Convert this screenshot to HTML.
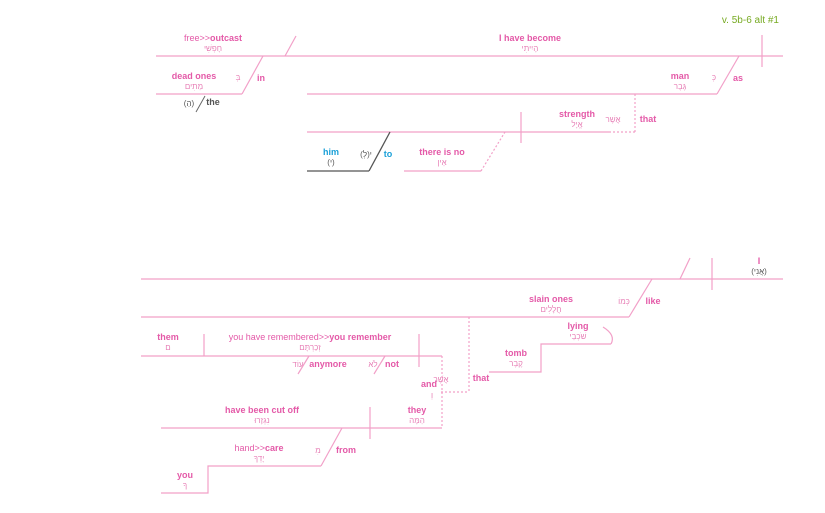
<!DOCTYPE html>
<html><head><meta charset="utf-8"><style>
html,body{margin:0;padding:0;background:#fff;}
svg{display:block;}
text{font-family:"Liberation Sans","Noto Sans CJK SC",sans-serif;font-size:9px;font-weight:bold;fill:#e45aa8;text-anchor:middle;}
.h{font-weight:normal;font-size:8px;fill:#e77fb6;}
.g{fill:#555;}
.b{fill:#1aa0d8;}
.l{font-weight:normal;}
</style></head><body>
<svg width="825" height="513" viewBox="0 0 825 513">
<g stroke="#f2a0c8" stroke-width="1.2" fill="none">
<line x1="156" y1="56" x2="783" y2="56"/>
<line x1="296" y1="36" x2="285" y2="56"/>
<line x1="762" y1="35" x2="762" y2="67"/>
<line x1="263" y1="56" x2="242" y2="94"/>
<line x1="156" y1="94" x2="242" y2="94"/>
<line x1="307" y1="94" x2="717" y2="94"/>
<line x1="739" y1="56" x2="717" y2="94"/>
<line x1="635" y1="94" x2="635" y2="132" stroke-dasharray="2,2"/>
<line x1="609" y1="132" x2="635" y2="132" stroke-dasharray="2,2"/>
<line x1="307" y1="132" x2="609" y2="132"/>
<line x1="521" y1="112" x2="521" y2="143"/>
<line x1="404" y1="171" x2="481" y2="171"/>
<line x1="481" y1="171" x2="505" y2="132" stroke-dasharray="2,2"/>
<line x1="141" y1="279" x2="783" y2="279"/>
<line x1="690" y1="258" x2="680" y2="279"/>
<line x1="712" y1="258" x2="712" y2="290"/>
<line x1="652" y1="279" x2="629" y2="317"/>
<line x1="141" y1="317" x2="629" y2="317"/>
<path d="M489 372 H541 V344 H611"/>
<path d="M603 327 Q616 335 611 344"/>
<line x1="469" y1="317" x2="469" y2="392" stroke-dasharray="2,2"/>
<line x1="441" y1="392" x2="469" y2="392" stroke-dasharray="2,2"/>
<line x1="141" y1="356" x2="442" y2="356"/>
<line x1="442" y1="356" x2="442" y2="428" stroke-dasharray="2,2"/>
<line x1="204" y1="334" x2="204" y2="356"/>
<line x1="419" y1="334" x2="419" y2="367"/>
<line x1="309" y1="356" x2="298" y2="374"/>
<line x1="385" y1="356" x2="374" y2="374"/>
<line x1="161" y1="428" x2="442" y2="428"/>
<line x1="370" y1="407" x2="370" y2="439"/>
<line x1="342" y1="428" x2="321" y2="466"/>
<path d="M321 466 H208 V493 H161"/>
</g>
<line x1="205" y1="96" x2="196" y2="112" stroke="#666" stroke-width="1"/>
<line x1="390" y1="132" x2="369" y2="171" stroke="#555" stroke-width="1.3"/>
<line x1="307" y1="171" x2="369" y2="171" stroke="#555" stroke-width="1.3"/>

<text x="779" y="23" style="fill:#77aa22;font-weight:normal;font-size:10px;text-anchor:end">v. 5b-6 alt #1</text>
<text x="213" y="41"><tspan class="l">free&gt;&gt;</tspan>outcast</text><text x="213" y="51" class="h">חָפְשִׁי</text>
<text x="530" y="41">I have become</text><text x="530" y="51" class="h">הָיִיתִי</text>
<text x="194" y="79">dead ones</text><text x="194" y="89" class="h">מֵתִים</text>
<text x="238" y="80" class="h">בְּ</text><text x="261" y="81">in</text>
<text x="189" y="106" class="h g">(הַ)</text><text x="213" y="105" class="g">the</text>
<text x="680" y="79">man</text><text x="680" y="89" class="h">גֶּבֶר</text>
<text x="714" y="80" class="h">כְּ</text><text x="738" y="81">as</text>
<text x="648" y="122">that</text>
<text x="577" y="117">strength</text><text x="577" y="127" class="h">אֱיָל</text>
<text x="613" y="122" class="h">אֲשֶׁר</text>
<text x="331" y="155" class="b">him</text><text x="331" y="165" class="h g">(י)</text>
<text x="366" y="157" class="h g">(לְ)י</text><text x="388" y="157" class="b">to</text>
<text x="442" y="155">there is no</text><text x="442" y="165" class="h">אֵין</text>

<text x="759" y="264">I</text><text x="759" y="274" class="h g">(אֲנִי)</text>
<text x="551" y="302">slain ones</text><text x="551" y="312" class="h">חֲלָלִים</text>
<text x="624" y="304" class="h">כְּמוֹ</text><text x="653" y="304">like</text>
<text x="578" y="329">lying</text><text x="578" y="339" class="h">שֹׁכְבֵי</text>
<text x="516" y="356">tomb</text><text x="516" y="366" class="h">קֶבֶר</text>
<text x="481" y="381">that</text>
<text x="168" y="340">them</text><text x="168" y="350" class="h">ם</text>
<text x="310" y="340"><tspan class="l">you have remembered&gt;&gt;</tspan>you remember</text><text x="310" y="350" class="h">זְכַרְתָּם</text>
<text x="298" y="367" class="h">עוֹד</text><text x="328" y="367">anymore</text>
<text x="373" y="367" class="h">לֹא</text><text x="392" y="367">not</text>
<text x="429" y="387">and</text><text x="441" y="382" class="h">אֲשֶׁר</text><text x="432" y="398" class="h">וְ</text>
<text x="417" y="413">they</text><text x="417" y="423" class="h">הֵמָּה</text>
<text x="262" y="413">have been cut off</text><text x="262" y="423" class="h">נִגְזָרוּ</text>
<text x="259" y="451"><tspan class="l">hand&gt;&gt;</tspan>care</text><text x="259" y="461" class="h">יָדְךָ</text>
<text x="318" y="453" class="h">מִ</text><text x="346" y="453">from</text>
<text x="185" y="478">you</text><text x="185" y="488" class="h">ךָ</text>
</svg>
</body></html>
